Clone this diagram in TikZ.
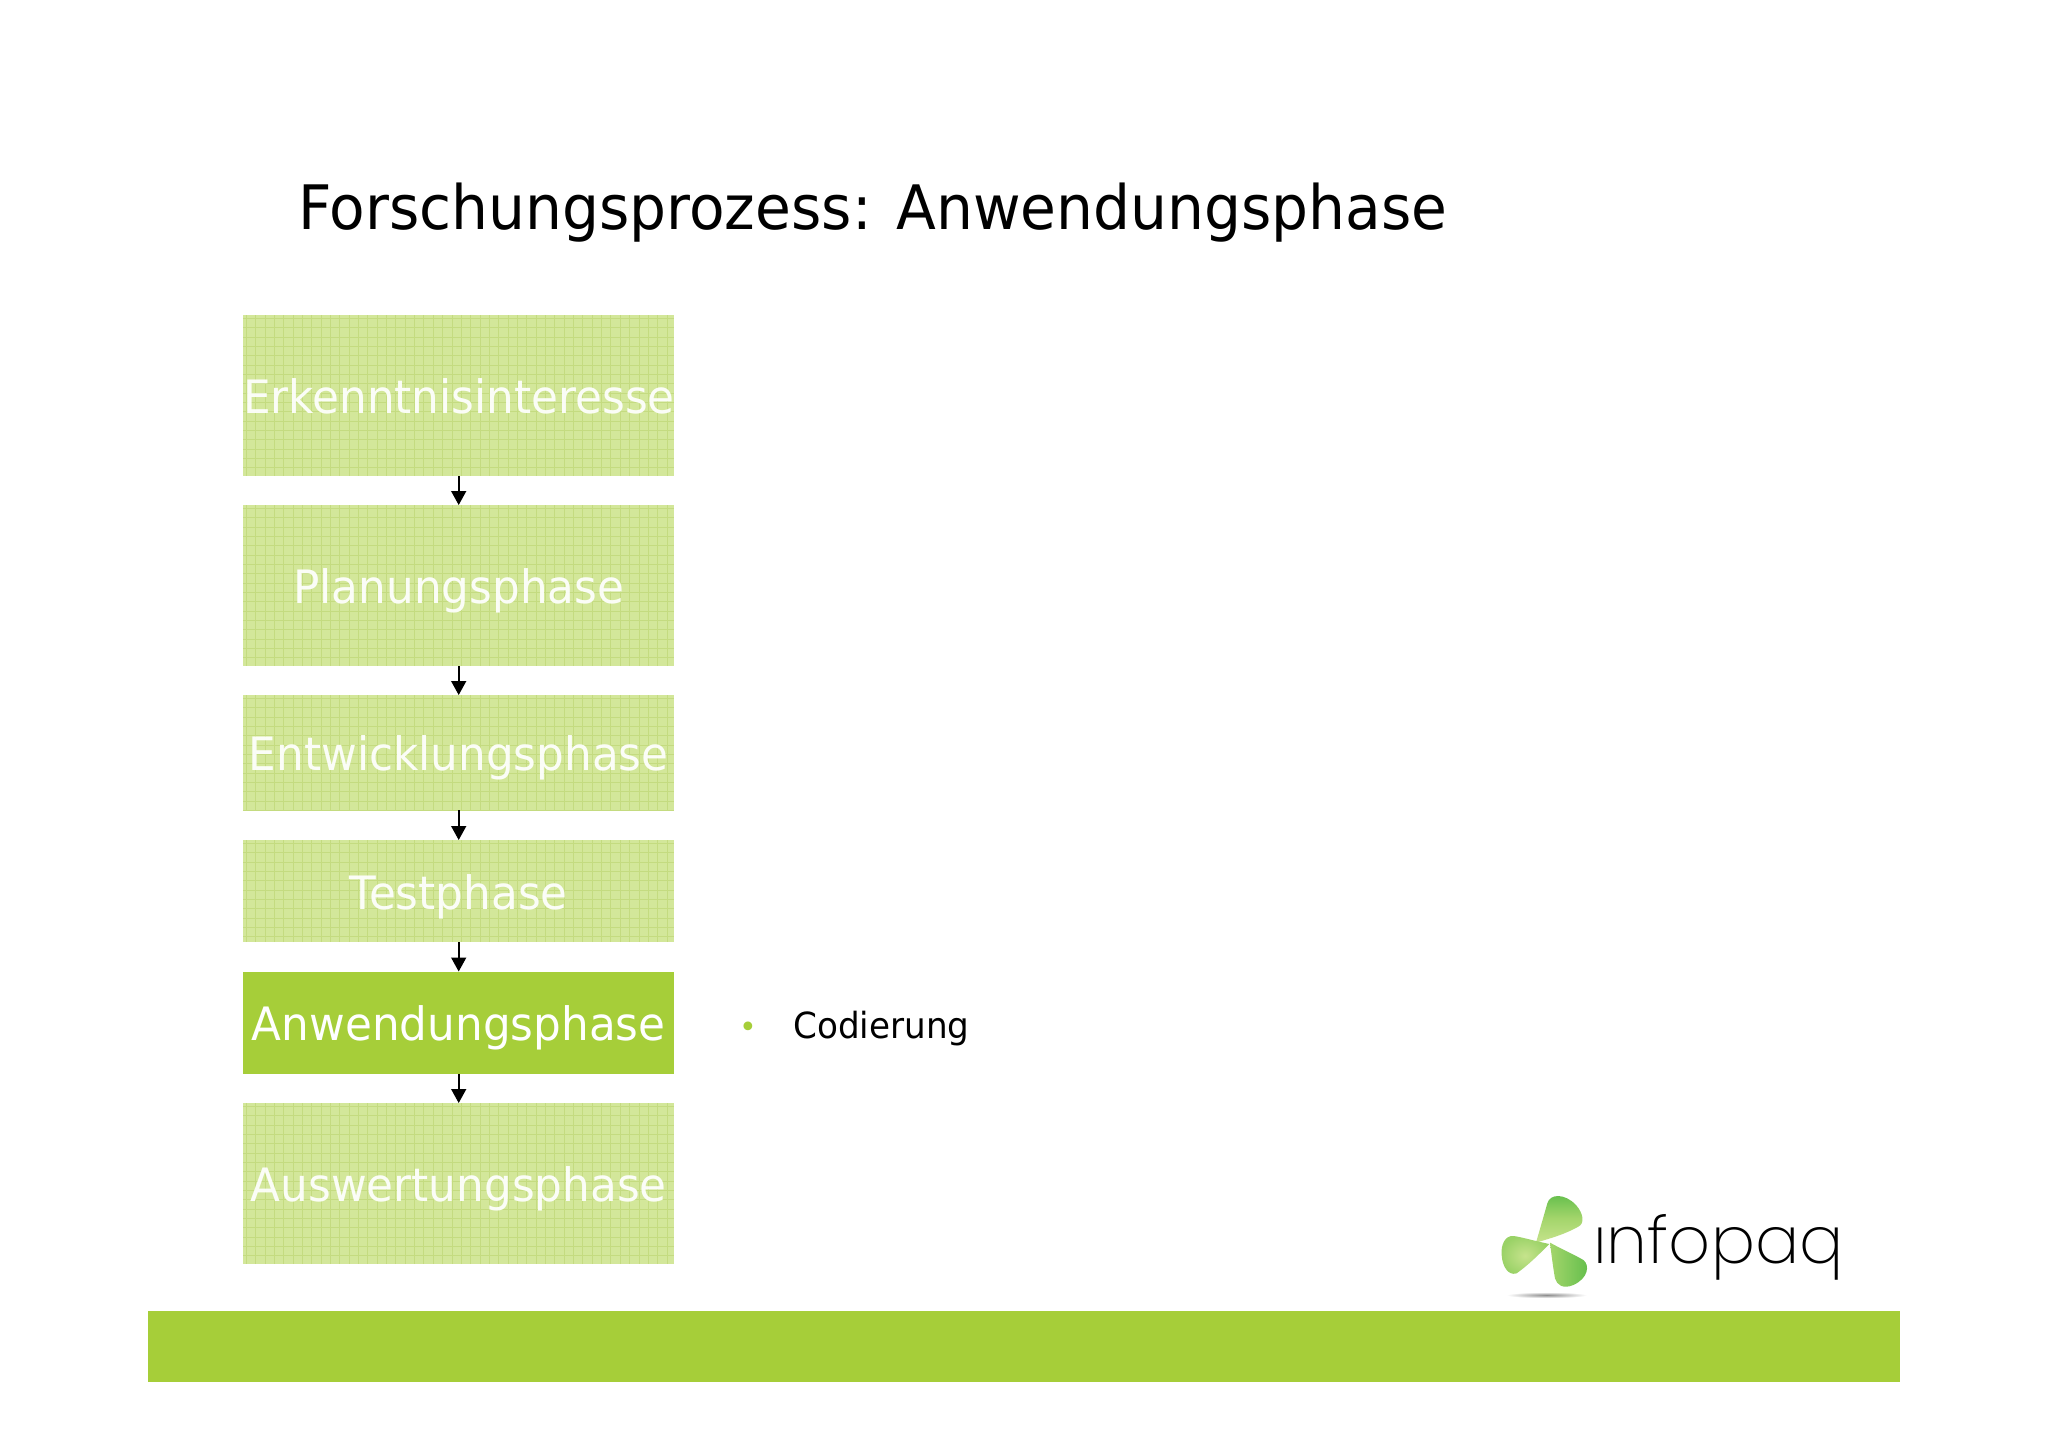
\documentclass[tikz,border=0pt]{standalone}
\usepackage{fontspec}
\setmainfont{DejaVu Sans}
\newfontfamily\slidefont{DejaVu Sans}[FakeStretch=.95]
\newfontfamily\logofont{Poppins}[UprightFont=* ExtraLight]
\usetikzlibrary{arrows.meta}
\definecolor{infogreen}{HTML}{A6CE39}
\definecolor{palegreen}{HTML}{D3E79A}
\definecolor{gridgreen}{HTML}{C4DB80}
\definecolor{bladedark}{HTML}{62BE4B}
\definecolor{blademid}{HTML}{A3D56B}
\definecolor{bladelight}{HTML}{C6E38C}
\tikzset{
  x=1pt,y=-1pt,
  phasebox/.style={anchor=north west,text width=431pt,align=center,inner sep=0pt,text=white,
    text height=42pt,text depth=6pt,
    font=\slidefont\fontsize{46}{50}\selectfont},
  paleph/.style={phasebox,fill=palegreen,text opacity=.93,path picture={
    \foreach \k in {0,...,46}{
      \draw[gridgreen,line width=.8pt] ([xshift=\k*9.35pt+3pt]path picture bounding box.north west) -- ([xshift=\k*9.35pt+3pt]path picture bounding box.south west);}
    \foreach \k in {0,...,18}{
      \draw[gridgreen,line width=.8pt] ([yshift=-\k*9.35pt-3pt]path picture bounding box.north west) -- ([yshift=-\k*9.35pt-3pt]path picture bounding box.north east);}
  }},
  activeph/.style={phasebox,fill=infogreen},
  flowarrow/.style={-{Triangle[length=14pt,width=15pt]},line width=1.6pt,black},
  blade/.style={shade,draw=none},
}
\begin{document}
\begin{tikzpicture}
\useasboundingbox (0,0) rectangle (2048,1448);
\fill[white] (0,0) rectangle (2048,1448);
\node[anchor=base west,inner sep=0pt,font=\slidefont\fontsize{61.3}{64}\selectfont] (title) at (298,229) {Forschungsprozess: Anwendungsphase};
\node[paleph,minimum height=161pt] (b1) at (243,315) {Erkenntnisinteresse};
\node[paleph,minimum height=161pt] (b2) at (243,505) {Planungsphase};
\node[paleph,minimum height=115pt] (b3) at (243,695) {Entwicklungsphase};
\node[paleph,minimum height=102pt] (b4) at (243,840) {Testphase};
\node[activeph,minimum height=102pt] (b5) at (243,971.5) {Anwendungsphase};
\node[paleph,minimum height=161pt] (b6) at (243,1103) {Auswertungsphase};
\draw[flowarrow] (b1.south) -- (b2.north);
\draw[flowarrow] (b2.south) -- (b3.north);
\draw[flowarrow] (b3.south) -- (b4.north);
\draw[flowarrow] (b4.south) -- (b5.north);
\draw[flowarrow] (b5.south) -- (b6.north);
\node[inner sep=0pt,text=infogreen,font=\fontsize{30}{32}\selectfont] (bul) at (748,1029.5) {•};
\node[anchor=base west,inner sep=0pt,font=\slidefont\fontsize{36}{40}\selectfont] (cod) at (793,1038) {Codierung};
\node[anchor=north west,inner sep=0pt,minimum width=1752pt,minimum height=71pt,fill=infogreen] (bar) at (148,1310.5) {};
% logo
\begin{scope}[shift={(1470,1170)},x=.3333pt,y=-.3333pt]
\shade[inner color=black!45,outer color=white] (110,366) rectangle (350,384);
\path[blade,top color=bladedark,bottom color=bladelight,middle color=blademid]
  (198,218) .. controls (212,170) and (222,135) .. (232,100) .. controls (240,70) and (285,70) .. (318,105) .. controls (340,130) and (345,160) .. (325,170) .. controls (280,195) and (240,205) .. (198,218) -- cycle;
\path[blade,inner color=bladelight,outer color=blademid!85!bladedark]
  (238,222) .. controls (190,212) and (150,200) .. (130,198) .. controls (105,196) and (92,225) .. (95,255) .. controls (97,290) and (115,318) .. (140,310) .. controls (175,285) and (205,255) .. (238,222) -- cycle;
\path[blade,left color=blademid,middle color=bladelight,right color=bladedark]
  (240,218) .. controls (280,240) and (315,255) .. (340,270) .. controls (360,285) and (355,325) .. (310,345) .. controls (280,358) and (260,345) .. (255,325) .. controls (248,285) and (244,250) .. (240,218) -- cycle;
\end{scope}
\node[anchor=base west,inner sep=0pt,font=\logofont\fontsize{65.5}{70}\selectfont] (logo) at (1593,1263) {ınfopaq};
\end{tikzpicture}
\end{document}
